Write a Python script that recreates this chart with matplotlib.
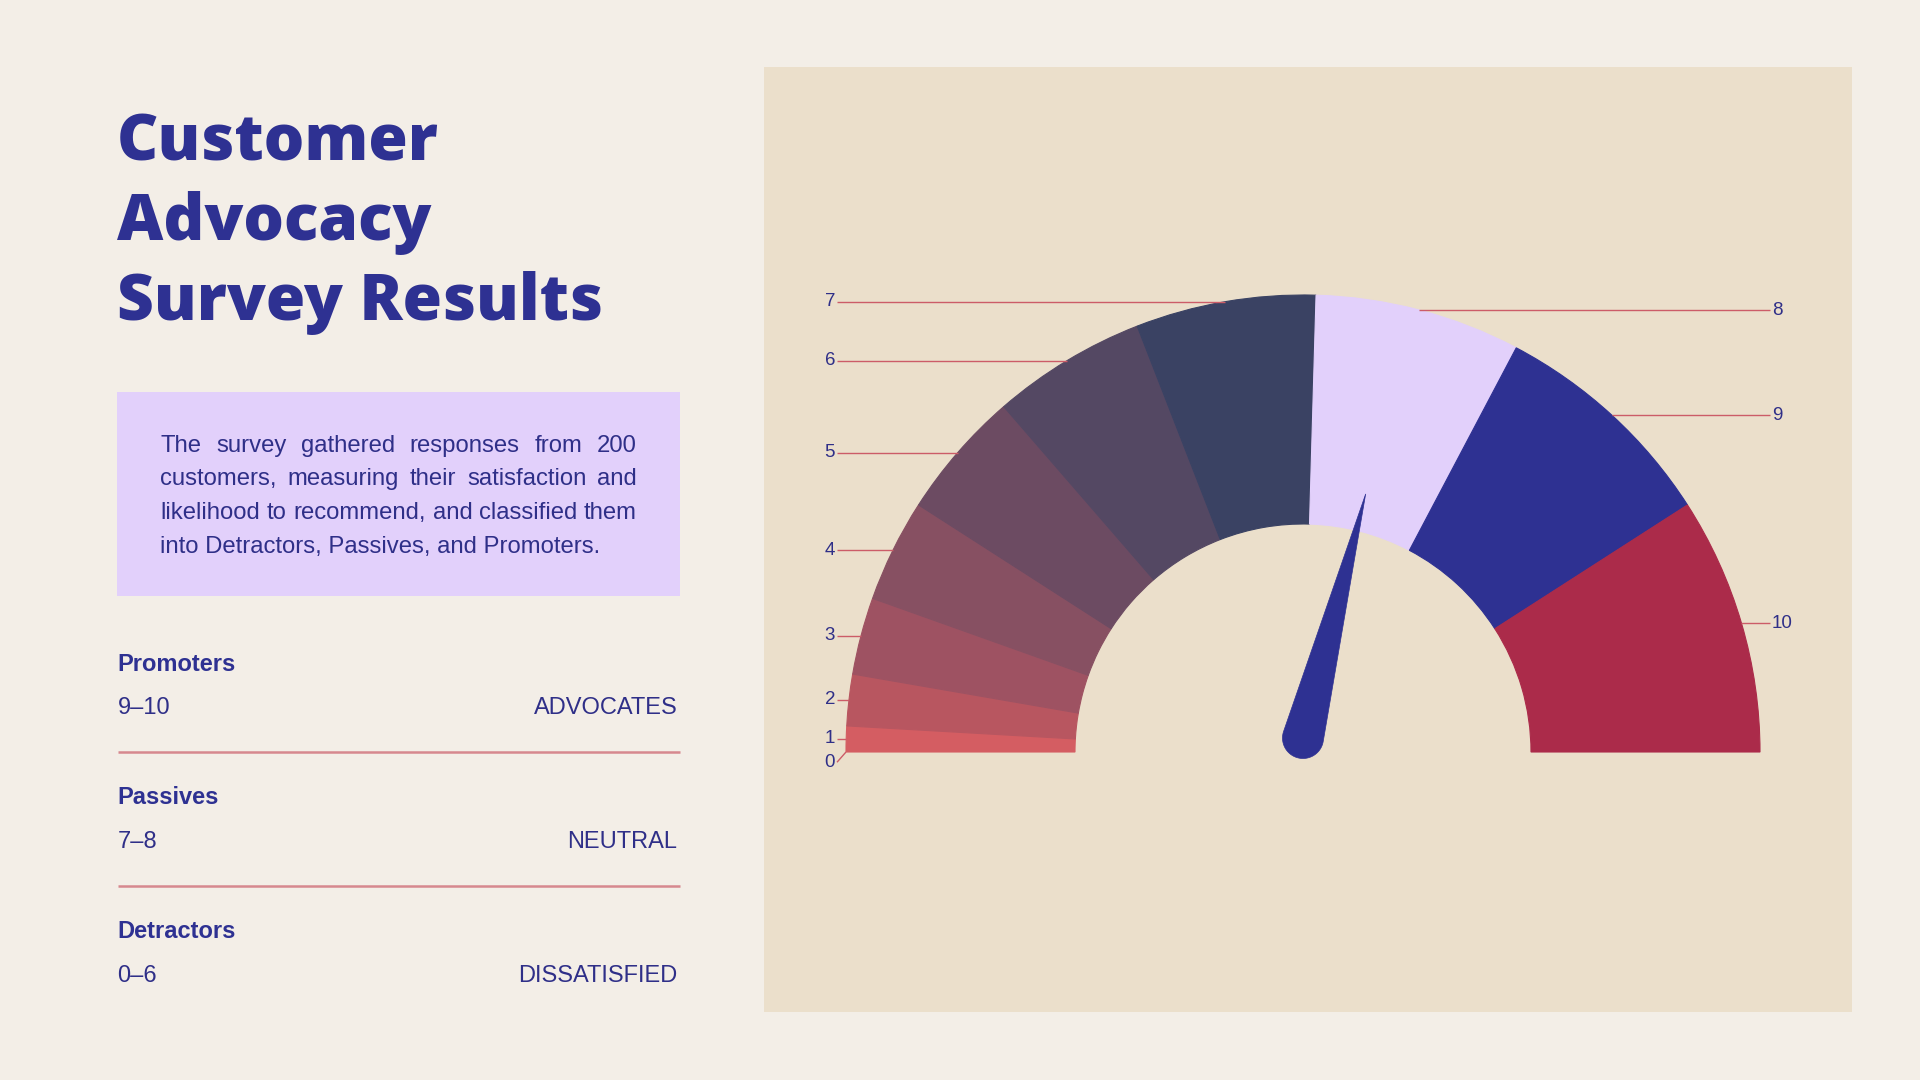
import matplotlib
matplotlib.use("Agg")
import matplotlib.pyplot as plt
import numpy as np
from matplotlib.patches import Rectangle, Polygon

# ---------------- data ----------------
scores = [0, 1, 2, 3, 4, 5, 6, 7, 8, 9, 10]
score_labels = [str(s) for s in scores]
slice_values = [0, 1, 2, 3, 4, 5, 6, 7, 8, 9, 10]
slice_colors = ['#D65F63', '#D45D62', '#B85660', '#9E5262', '#875062', '#6C4B62',
                '#544863', '#3A4263', '#E2D0FB', '#2E3192', '#AB2B4A']
needle_score = 5.8
score_max = 10

title_lines = ["Customer", "Advocacy", "Survey Results"]
description_lines = [
    "The survey gathered responses from 200",
    "customers, measuring their satisfaction and",
    "likelihood to recommend, and classified them",
    "into Detractors, Passives, and Promoters.",
]
group_names = ["Promoters", "Passives", "Detractors"]
group_ranges = ["9\u201310", "7\u20138", "0\u20136"]
group_tags = ["ADVOCATES", "NEUTRAL", "DISSATISFIED"]

# ---------------- style ----------------
BG = '#F3EEE7'
PANEL = '#EBDFCB'
NAVY = '#2E3192'
TEXT = '#2F2F88'
LINE = '#CC5C68'
SEP = '#D6888F'
BOX = '#E2D0FB'
SANS = ['Liberation Sans', 'DejaVu Sans']
TITLE_FONT = ['Open Sans', 'DejaVu Sans']

W, H = 1920, 1080
fig = plt.figure(figsize=(19.2, 10.8), dpi=100, facecolor=BG)
ax = fig.add_axes([0, 0, 1, 1])
ax.set_facecolor(BG)


def Y(y_img):
    return H - y_img


renderer = fig.canvas.get_renderer()


def text_width(s, size, **kw):
    t = ax.text(0, 0, s, fontsize=size, **kw)
    w = t.get_window_extent(renderer).width
    t.remove()
    return w


def fit_size(s, target, **kw):
    base = 20.0
    return base * target / text_width(s, base, **kw)


# panel
ax.add_patch(Rectangle((764, Y(1012)), 1852 - 764, 1012 - 67, facecolor=PANEL,
                       edgecolor='none', zorder=0))

# ---------------- gauge (half doughnut) ----------------
cx, cy = 1303, Y(752)
R_out, ring = 457, 229
total = sum(slice_values)
wedges, _ = ax.pie(slice_values + [total], colors=slice_colors + ['none'],
                   startangle=180, counterclock=False, radius=R_out,
                   center=(cx, cy), wedgeprops=dict(width=ring, linewidth=0))
for w_, v, c in zip(wedges, slice_values, slice_colors):
    w_.set_zorder(2)
    if v > 0:
        w_.set_edgecolor(c)
        w_.set_linewidth(0.8)
wedges[-1].set_visible(False)

# labels with leader lines
cum = np.concatenate([[0], np.cumsum(slice_values)])
mids = [(cum[i] + slice_values[i] / 2) / total * 180 for i in range(len(slice_values))]
left_items, right_items = [], []
for lab, phi in zip(score_labels, mids):
    a = np.radians(phi)
    px, py = cx - R_out * np.cos(a), cy + R_out * np.sin(a)
    (left_items if phi < 90 else right_items).append([lab, px, py, py])

min_gap = 23.3
for items in (left_items, right_items):
    items.sort(key=lambda t: -t[2])  # top first
    for i in range(1, len(items)):
        if items[i - 1][3] - items[i][3] < min_gap:
            items[i][3] = items[i - 1][3] - min_gap

lab_size = 13.5
for lab, px, py, ly in left_items:
    ax.plot([px, 837], [py, ly], color=LINE, lw=1.0, zorder=3, solid_capstyle='butt')
    ax.text(835, ly, lab, ha='right', va='center', fontsize=lab_size,
            color=TEXT, family=SANS, zorder=4)
for lab, px, py, ly in right_items:
    ax.plot([px, 1770], [py, ly], color=LINE, lw=1.0, zorder=3, solid_capstyle='butt')
    ax.text(1772, ly, lab, ha='left', va='center', fontsize=lab_size,
            color=TEXT, family=SANS, zorder=4)

# needle
phi = needle_score / score_max * 180
th = np.radians(180 - phi)
bx, by = cx, cy + 14
L, r = 252, 20.5
tip = (bx + L * np.cos(th), by + L * np.sin(th))
da = np.arccos(r / L)
arc = np.linspace(th + da, th + 2 * np.pi - da, 60)
pts = [tip] + [(bx + r * np.cos(t), by + r * np.sin(t)) for t in arc]
ax.add_patch(Polygon(pts, closed=True, facecolor=NAVY, edgecolor=NAVY, lw=0.5, zorder=5))

# ---------------- left column ----------------
title_size = fit_size(title_lines[2], 486, family=TITLE_FONT, weight='heavy')
for line, base in zip(title_lines, [160.7, 240.0, 320.0]):
    ax.text(117, Y(base), line, fontsize=title_size, weight='heavy', family=TITLE_FONT,
            color=NAVY, va='baseline', ha='left')

# description box
ax.add_patch(Rectangle((117.3, Y(596)), 680 - 117.3, 596 - 392,
                       facecolor=BOX, edgecolor='none', zorder=1))
desc_size = fit_size(description_lines[-1], 439, family=SANS)
x0, x1 = 160.2, 637.0
for i, line in enumerate(description_lines):
    yb = Y(451.7 + i * 33.65)
    words = line.split(' ')
    if i == len(description_lines) - 1:
        ax.text(x0, yb, line, fontsize=desc_size, family=SANS, color=TEXT,
                va='baseline', ha='left', zorder=2)
        continue
    widths = [text_width(wd, desc_size, family=SANS) for wd in words]
    gap = (x1 - x0 - sum(widths)) / (len(words) - 1)
    x = x0
    for wd, ww in zip(words, widths):
        ax.text(x, yb, wd, fontsize=desc_size, family=SANS, color=TEXT,
                va='baseline', ha='left', zorder=2)
        x += ww + gap

# groups
name_size = 17
val_size = 17
for i, (nm, rg, tg) in enumerate(zip(group_names, group_ranges, group_tags)):
    off = i * 133.8
    ax.text(117.5, Y(670.7 + off), nm, fontsize=name_size, weight='bold', family=SANS,
            color=NAVY, va='baseline', ha='left')
    ax.text(117.5, Y(714 + off), rg, fontsize=val_size, family=SANS,
            color=TEXT, va='baseline', ha='left')
    ax.text(677.5, Y(714 + off), tg, fontsize=val_size, family=SANS,
            color=TEXT, va='baseline', ha='right')
    if i < len(group_names) - 1:
        ax.plot([117.5, 680], [Y(752.3 + off)] * 2, color=SEP, lw=1.8,
                solid_capstyle='butt')

ax.set_xlim(0, W)
ax.set_ylim(0, H)
ax.set_aspect('auto')
ax.axis('off')

fig.savefig('out.png', dpi=100, facecolor=BG)
